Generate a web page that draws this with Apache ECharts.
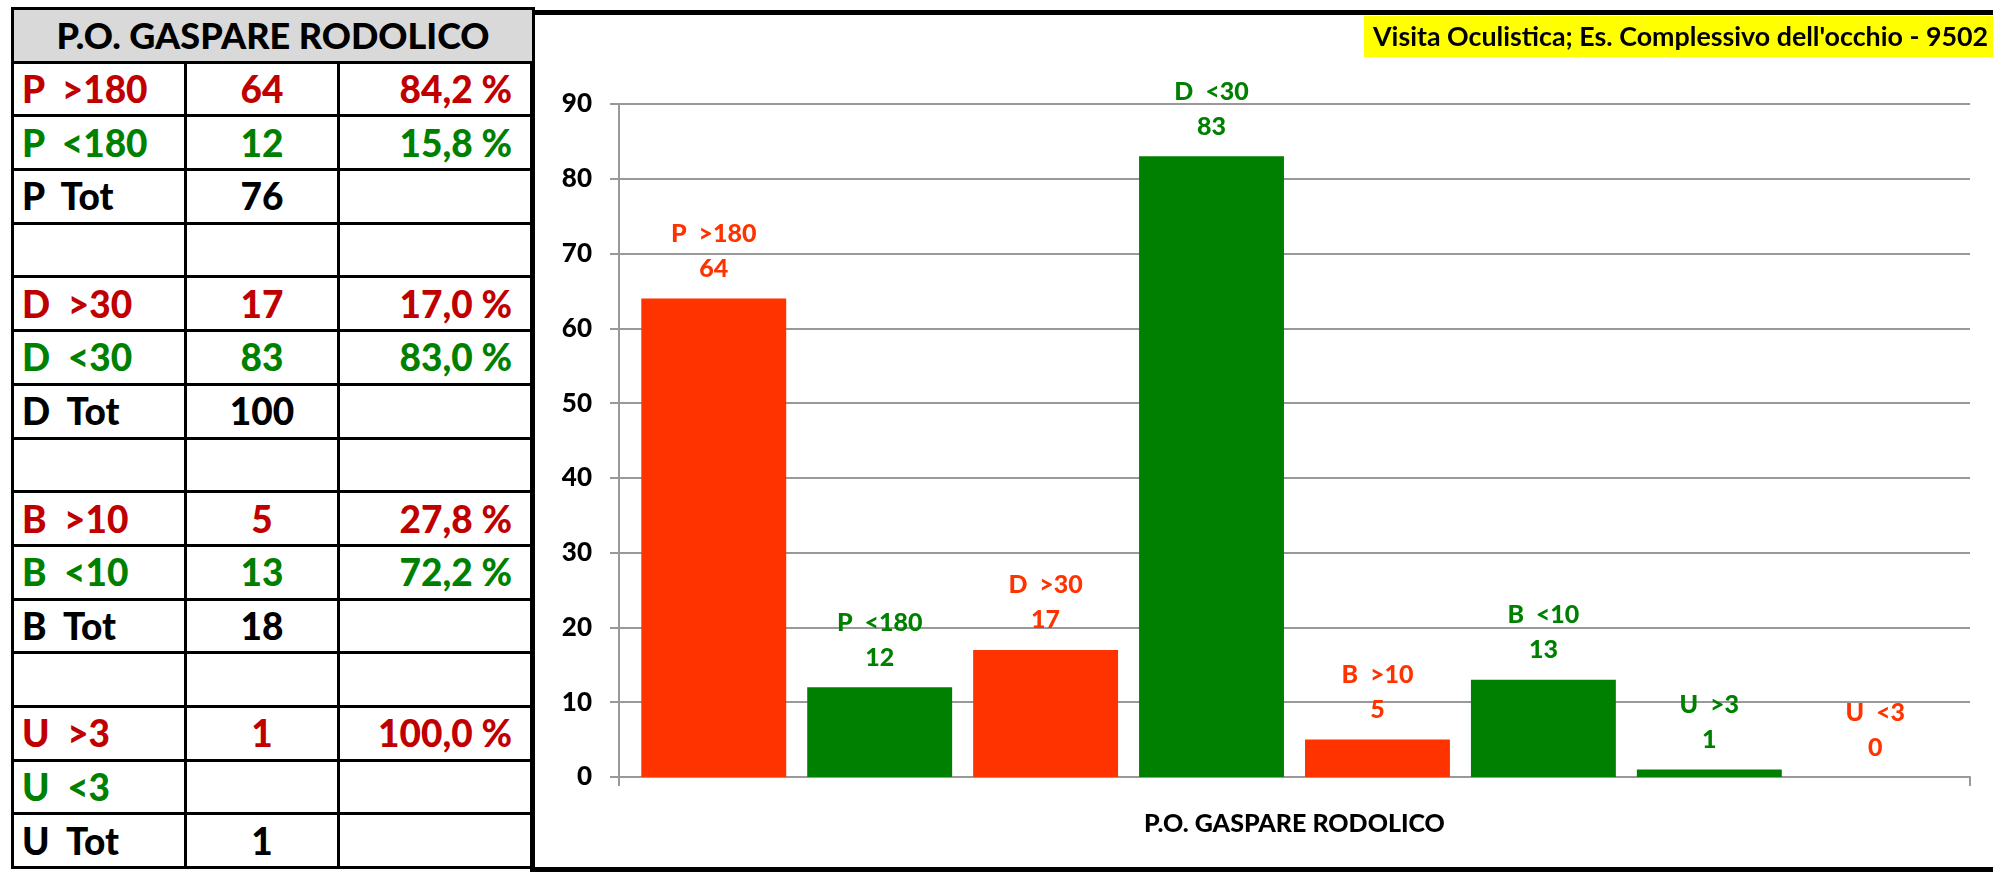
<!DOCTYPE html>
<html>
<head>
<meta charset="utf-8">
<script src="https://cdn.jsdelivr.net/npm/echarts@6/dist/echarts.min.js"></script>
<style>
  html, body { margin:0; padding:0; background:#fff; width:1993px; height:874px; overflow:hidden; }
  #panel { position:absolute; left:530px; top:10px; width:1500px; height:852px; border:5px solid #000; box-sizing:content-box; }
  #chart { position:absolute; left:0; top:0; width:1993px; height:874px; }
  #tbl { position:absolute; left:11px; top:7px; border-collapse:collapse; table-layout:fixed; width:521px;
         font-family:Lato, "Open Sans", sans-serif; font-weight:900; font-size:37px; }
  #tbl td { border:3px solid #000; height:50.7px; padding:0; line-height:50px; white-space:pre; overflow:hidden; }
  #tbl td.h { background:#D9D9D9; text-align:center; font-size:36px; color:#000; }
  #tbl td.c1 { text-align:left; padding-left:8px; }
  #tbl td.c2 { text-align:center; }
  #tbl td.c3 { text-align:right; padding-right:20px; }
</style>
</head>
<body>
<div id="panel"></div>
<table id="tbl"></table>
<div id="chart"></div>
<script>
// ---- data ----
const hospital = 'P.O. GASPARE RODOLICO';
const titleText = "Visita Oculistica; Es. Complessivo dell'occhio - 9502";
const groups = ['P', 'D', 'B', 'U'];
const thresholds = ['180', '30', '10', '3'];
const countsOver = [64, 17, 5, 1];    // ">" counts
const countsUnder = [12, 83, 13, 0];  // "<" counts
const yTicks = [0, 10, 20, 30, 40, 50, 60, 70, 80, 90];
// bar order in chart and label/bar colours as in the reference
const barNames = ['P  >180', 'P  <180', 'D  >30', 'D  <30', 'B  >10', 'B  <10', 'U  >3', 'U  <3'];
const barValues = [64, 12, 17, 83, 5, 13, 1, 0];
const barColorKeys = ['o', 'g', 'o', 'g', 'o', 'g', 'g', 'o'];

const ORANGE = '#FF3300', GREEN = '#008000', RED = '#C00000';
const colorOf = k => (k === 'o' ? ORANGE : GREEN);

// ---- table ----
const tbl = document.getElementById('tbl');
const fmtPct = (v, tot) => (v > 0 ? (v / tot * 100).toFixed(1).replace('.', ',') + ' %' : '');
let html = '<colgroup><col style="width:173px"><col style="width:153px"><col style="width:195px"></colgroup>';
html += `<tr><td class="h" colspan="3">${hospital}</td></tr>`;
groups.forEach((g, i) => {
  const tot = countsOver[i] + countsUnder[i];
  html += `<tr style="color:${RED}"><td class="c1">${g}  &gt;${thresholds[i]}</td><td class="c2">${countsOver[i] || ''}</td><td class="c3">${fmtPct(countsOver[i], tot)}</td></tr>`;
  html += `<tr style="color:${GREEN}"><td class="c1">${g}  &lt;${thresholds[i]}</td><td class="c2">${countsUnder[i] || ''}</td><td class="c3">${fmtPct(countsUnder[i], tot)}</td></tr>`;
  html += `<tr style="color:#000"><td class="c1">${g}  Tot</td><td class="c2">${tot}</td><td class="c3"></td></tr>`;
  if (i < groups.length - 1) html += '<tr><td class="c1"></td><td class="c2"></td><td class="c3"></td></tr>';
});
tbl.innerHTML = html;

// ---- chart ----
const chart = echarts.init(document.getElementById('chart'));
const FONT = 'Lato';
const W = 900;
const gridColor = '#999999';
const series = barNames.map((n, i) => ({
  name: n,
  type: 'bar',
  data: [barValues[i]],
  barGap: '14.5%',
  barCategoryGap: '3.3%',
  itemStyle: { color: colorOf(barColorKeys[i]) },
  label: {
    show: true, position: 'top', distance: 12,
    formatter: '{a}\n{c}',
    color: colorOf(barColorKeys[i]),
    fontFamily: FONT, fontWeight: W, fontSize: 25, lineHeight: 35, align: 'center'
  }
}));
chart.setOption({
  animation: false,
  title: {
    text: titleText, left: 1364, top: 16,
    backgroundColor: '#FFFF00', padding: [7, 60, 6, 9],
    textStyle: { fontFamily: FONT, fontWeight: 'bold', fontSize: 26.8, color: '#000', lineHeight: 28 }
  },
  grid: { left: 619, right: 23, top: 104, bottom: 97, containLabel: false },
  xAxis: {
    type: 'category', data: [hospital],
    axisLine: { show: true, lineStyle: { color: gridColor, width: 2 } },
    axisTick: { show: true, length: 9, lineStyle: { color: gridColor, width: 2 } },
    axisLabel: { margin: 34, fontFamily: FONT, fontWeight: W, fontSize: 25, color: '#000' }
  },
  yAxis: {
    type: 'value', min: yTicks[0], max: yTicks[yTicks.length - 1], interval: yTicks[1] - yTicks[0],
    axisLine: { show: true, lineStyle: { color: gridColor, width: 2 } },
    axisTick: { show: true, length: 9, lineStyle: { color: gridColor, width: 2 } },
    splitLine: { show: true, lineStyle: { color: gridColor, width: 2 } },
    axisLabel: { margin: 27, fontFamily: FONT, fontWeight: W, fontSize: 26, color: '#000' }
  },
  series: series
});
</script>
</body>
</html>
